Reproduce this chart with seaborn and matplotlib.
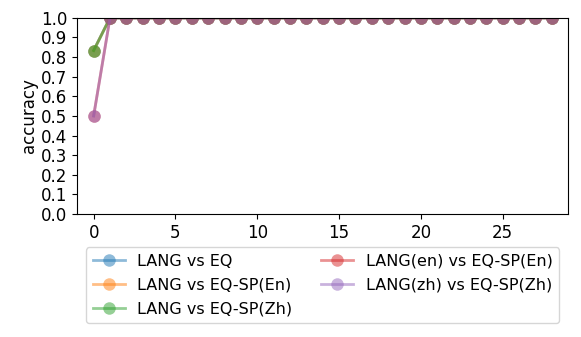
import numpy as np
import pandas as pd
import matplotlib
matplotlib.use("Agg")
import matplotlib.pyplot as plt
import seaborn as sns

steps = list(range(29))
series_names = ["LANG vs EQ", "LANG vs EQ-SP(En)", "LANG vs EQ-SP(Zh)",
                "LANG(en) vs EQ-SP(En)", "LANG(zh) vs EQ-SP(Zh)"]
acc_lang_eq = [0.8333] + [1.0] * 28
acc_lang_eqsp_en = [0.8333] + [1.0] * 28
acc_lang_eqsp_zh = [0.8333] + [1.0] * 28
acc_en_eqsp_en = [0.5] + [1.0] * 28
acc_zh_eqsp_zh = [0.5] + [1.0] * 28
all_acc = [acc_lang_eq, acc_lang_eqsp_en, acc_lang_eqsp_zh, acc_en_eqsp_en, acc_zh_eqsp_zh]

rows = []
for name, vals in zip(series_names, all_acc):
    for s, v in zip(steps, vals):
        rows.append({"step": s, "accuracy": v, "series": name})
df = pd.DataFrame(rows)

fig, ax = plt.subplots(figsize=(5.81, 3.37), dpi=100)
palette = sns.color_palette("tab10", 5)
sns.lineplot(data=df, x="step", y="accuracy", hue="series", hue_order=series_names,
             palette=palette, marker="o", markersize=9, markeredgewidth=0,
             linewidth=2, alpha=0.5, ax=ax, legend=True)
for ln in ax.lines:
    ln.set_clip_on(True)
ax.set_xlim(-1, 29)
ax.set_ylim(0, 1.0)
ax.set_yticks(np.arange(0, 1.01, 0.1))
ax.set_xticks([0, 5, 10, 15, 20, 25])
ax.set_xlabel("")
ax.set_ylabel("accuracy", fontsize=12, labelpad=2)
ax.tick_params(labelsize=12)
leg = ax.legend(loc="upper center", bbox_to_anchor=(0.5, -0.13), ncol=2, fontsize=11.5,
                frameon=True, handlelength=2, labelspacing=0.55, columnspacing=1.8)
fig.subplots_adjust(left=0.133, right=0.978, top=0.947, bottom=0.365)
fig.savefig("out.png", dpi=100)
